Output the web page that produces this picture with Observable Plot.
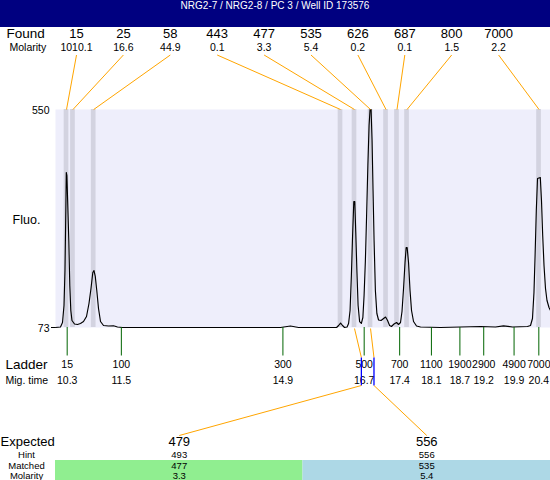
<!DOCTYPE html>
<html>
<head>
<meta charset="utf-8">
<script src="https://cdn.jsdelivr.net/npm/d3@7"></script>
<script src="https://cdn.jsdelivr.net/npm/@observablehq/plot@0.6"></script>
<style>
  body { margin: 0; background: white; }
  #title { background: #000080; color: white; height: 27px; line-height: 30px; text-align: center;
           font: 10px "Liberation Sans", Arial, sans-serif; width: 550px; }
</style>
</head>
<body>
<div id="title">NRG2-7 / NRG2-8 / PC 3 / Well ID 173576</div>
<div id="chart"></div>
<script>
// ---------- data ----------
const foundSizes = [15, 25, 58, 443, 477, 535, 626, 687, 800, 7000];
const foundMolarity = ["1010.1", "16.6", "44.9", "0.1", "3.3", "5.4", "0.2", "0.1", "1.5", "2.2"];
const foundTimes = [10.286, 10.424, 10.868, 16.153, 16.453, 16.796, 17.128, 17.363, 17.578, 20.405];

const ladderSizes = [15, 100, 300, 500, 700, 1100, 1900, 2900, 4900, 7000];
const ladderTimes = [10.30, 11.46, 14.92, 16.66, 17.42, 18.10, 18.71, 19.22, 19.87, 20.40];

const expectedSizes = [479, 556];
const expectedTimes = [16.60, 16.87];
const hintSizes = [493, 556];
const matchedSizes = [477, 535];
const matchedTimes = [16.453, 16.796];
const matchedMolarity = ["3.3", "5.4"];

const traceTime = [10.050,10.157,10.200,10.232,10.253,10.271,10.281,10.294,10.313,10.335,10.356,10.378,10.403,10.457,10.521,10.585,10.650,10.714,10.767,10.810,10.849,10.874,10.902,10.934,10.971,11.014,11.078,11.185,11.292,11.378,11.485,13.155,14.868,15.082,15.254,
16.069,16.112,16.155,16.197,16.240,16.294,16.326,16.358,16.386,16.412,16.438,16.459,16.480,16.504,16.530,16.562,16.600,16.632,16.658,16.686,16.712,16.739,16.765,16.786,16.808,16.829,16.850,16.872,16.900,16.932,16.968,17.022,17.076,17.118,17.161,17.204,17.245,17.299,17.354,17.396,17.438,17.470,17.503,17.535,17.559,17.580,17.610,17.642,17.674,17.717,17.781,17.867,
18.294,18.723,19.151,19.472,19.643,19.836,20.157,
20.222,20.264,20.296,20.320,20.346,20.372,20.432,20.457,20.483,20.511,20.543,20.575,20.618,20.650];
const traceFluo = [73,74.1,83.9,121.1,197.7,329.0,412.2,405.6,339.9,263.4,164.9,110.2,88.3,80.7,79.6,81.8,86.1,97.1,125.5,158.3,193.3,197.7,184.6,154.0,114.6,86.1,77.4,76.3,76.7,74.1,73,73,73,76.3,73,
73,77.4,82.8,77.4,73,74.1,81.8,110.2,186.8,274.3,348.7,348.7,280.9,197.7,121.1,86.1,81.8,94.9,143.0,219.6,318.1,427.5,515.0,550,550,482.2,372.8,263.4,154.0,103.6,89.4,88.3,92.7,96.0,88.3,77.4,75.2,80.7,83.9,79.6,83.9,108.0,158.3,215.2,248.0,248.0,215.2,154.0,110.2,86.1,76.3,74.1,
73,74.1,75.2,74.1,76.7,74.1,75.2,
77.4,92.7,149.6,230.5,329.0,399.0,401.2,350.9,274.3,208.7,158.3,132.1,116.8,110.2];

const yTicks = [550, 73];

// ---------- layout ----------
const W = 550, H = 453;
const X0 = 55, X1 = 550, T0 = 10.05, T1 = 20.65;
const YTOP = 82, YBOT = 300, F0 = 73, F1 = 550;
const fx = px => T0 + (px - X0) * (T1 - T0) / (X1 - X0);
const fy = py => F0 + (YBOT - py) * (F1 - F0) / (YBOT - YTOP);
const colPx = i => 76 + 46.9 * i;
const boxW = (X1 - X0) / expectedSizes.length;
const boxCx = i => X0 + boxW * (i + 0.5);

const found = foundSizes.map((s, i) => ({s, m: foundMolarity[i], t: foundTimes[i], i}));
const ladder = ladderSizes.map((s, i) => ({s, t: ladderTimes[i]}));
const trace = traceTime.map((t, i) => ({t, f: traceFluo[i]}));
const expected = expectedSizes.map((e, i) => ({e, h: hintSizes[i], m: matchedSizes[i], mt: matchedTimes[i], mm: matchedMolarity[i], et: expectedTimes[i], i}));

const font = "Liberation Sans, Arial, sans-serif";
const label = (txt, px, py, size, anchor = "start") =>
  Plot.text([txt], {text: d => d, x: () => fx(px), y: () => fy(py), fontSize: size, textAnchor: anchor, fill: "black"});

const boxColors = ["#90EE90", "#ADD8E6"];

const chart = Plot.plot({
  width: W, height: H,
  marginLeft: X0, marginRight: W - X1, marginTop: YTOP, marginBottom: H - YBOT,
  x: {domain: [T0, T1], axis: null},
  y: {domain: [F0, F1], axis: null},
  style: {fontFamily: font, background: "white", overflow: "visible"},
  marks: [
    Plot.frame({fill: "#EEEEFB", stroke: null}),
    Plot.rect(found, {x1: d => d.t - 0.05, x2: d => d.t + 0.05, y1: () => F0, y2: () => F1, fill: "#D3D3E0"}),
    Plot.line(trace, {x: "t", y: "f", stroke: "black", strokeWidth: 1.15}),
    // found row
    label("Found", 6, 6.5, 13.5),
    label("Molarity", 9, 20, 10.5),
    Plot.text(found, {text: d => String(d.s), x: d => fx(colPx(d.i)), y: () => fy(6.5), fontSize: 13}),
    Plot.text(found, {text: d => d.m, x: d => fx(colPx(d.i)), y: () => fy(20), fontSize: 10.5}),
    Plot.link(found, {x1: d => fx(colPx(d.i)), y1: () => fy(27.5), x2: d => d.t, y2: () => F1, stroke: "#FFA500", strokeWidth: 1}),
    // y axis labels
    Plot.text(yTicks, {text: d => String(d), x: () => fx(49), y: d => d, textAnchor: "end", fontSize: 10.5, dy: 1}),
    Plot.ruleY([F0], {x1: () => fx(51), x2: () => fx(55), stroke: "black"}),
    label("Fluo.", 26, 192, 12.5, "middle"),
    // ladder
    Plot.ruleX(ladder, {x: "t", y1: () => F0, y2: () => fy(328.5), stroke: "#006400"}),
    label("Ladder", 5, 337, 13.5),
    label("Mig. time", 5, 353, 10.5),
    Plot.text(ladder, {text: d => String(d.s), x: "t", y: () => fy(337), fontSize: 10.5}),
    Plot.text(ladder, {text: d => d3.format(".1f")(d.t), x: "t", y: () => fy(353.5), fontSize: 10.5}),
    // bottom boxes
    ...expected.map(d => Plot.rect([d], {x1: () => fx(X0 + boxW * d.i), x2: () => fx(X0 + boxW * (d.i + 1)), y1: () => fy(433), y2: () => fy(453), fill: boxColors[d.i]})),
    // matched connectors
    Plot.link(expected, {x1: d => d.mt, y1: () => fy(301), x2: d => d.et, y2: () => fy(330), stroke: "#FFA500"}),
    Plot.link(expected, {x1: d => d.et, y1: () => fy(330), x2: d => d.et, y2: () => fy(358), stroke: "#0000FF", strokeWidth: 1.3}),
    Plot.link(expected, {x1: d => d.et, y1: () => fy(358), x2: d => fx(boxCx(d.i)), y2: () => fy(408), stroke: "#FFA500"}),
    // bottom texts
    label("Expected", 0, 414, 13),
    label("Hint", 26, 427, 9.5, "middle"),
    label("Matched", 26, 438.5, 9.5, "middle"),
    label("Molarity", 26, 448.5, 9.5, "middle"),
    Plot.text(expected, {text: d => String(d.e), x: d => fx(boxCx(d.i)), y: () => fy(414), fontSize: 13}),
    Plot.text(expected, {text: d => String(d.h), x: d => fx(boxCx(d.i)), y: () => fy(427), fontSize: 9.5}),
    Plot.text(expected, {text: d => String(d.m), x: d => fx(boxCx(d.i)), y: () => fy(438.5), fontSize: 9.5}),
    Plot.text(expected, {text: d => d.mm, x: d => fx(boxCx(d.i)), y: () => fy(448.5), fontSize: 9.5})
  ]
});
document.getElementById("chart").appendChild(chart);
</script>
</body>
</html>
